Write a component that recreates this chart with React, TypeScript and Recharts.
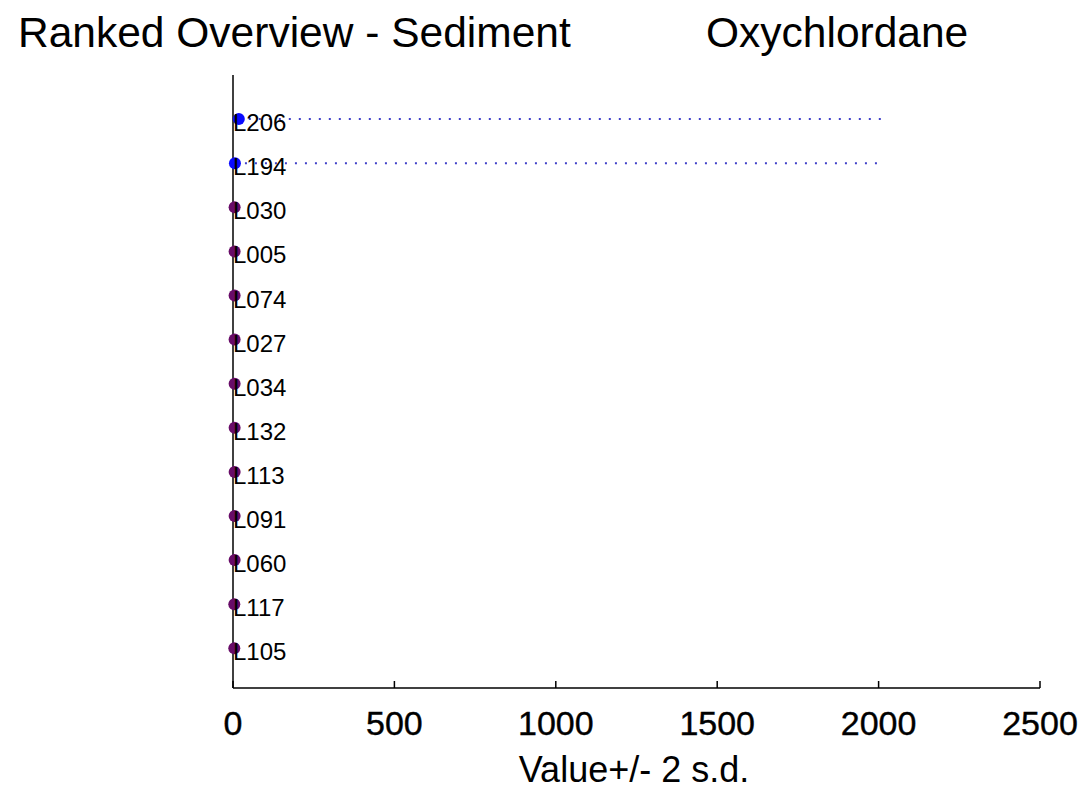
import React from 'react';
import { ScatterChart, Scatter, XAxis, YAxis } from 'recharts';

const stations = ['L206', 'L194', 'L030', 'L005', 'L074', 'L027', 'L034', 'L132', 'L113', 'L091', 'L060', 'L117', 'L105'];
const values = [18, 6, 5, 5, 5, 5, 5, 5, 5, 5, 5, 4, 4];
const upperValues = [2017, 2000, null, null, null, null, null, null, null, null, null, null, null];
const flagged = [true, true, false, false, false, false, false, false, false, false, false, false, false];
const xTicks = [0, 500, 1000, 1500, 2000, 2500];

const n = stations.length;
const points = stations.map((name, i) => ({ x: values[i], y: n - i, name, flagged: flagged[i] }));
const bluePoints = points.filter((p) => p.flagged);
const purplePoints = points.filter((p) => !p.flagged);
const labelPoints = stations.map((name, i) => ({ x: 0, y: n - i, name }));
const errSegments = stations
  .map((name, i) => (upperValues[i] != null ? [{ x: values[i], y: n - i }, { x: upperValues[i] as number, y: n - i }] : null))
  .filter((s) => s !== null) as { x: number; y: number }[][];

const FONT = 'Arial, "Liberation Sans", sans-serif';

const Tick = (props: any) => {
  const { x, y, payload } = props;
  return (
    <g>
      <line x1={x} y1={y} x2={x} y2={y - 7} stroke="#000" strokeWidth={1.5} />
      <text x={x} y={y + 47} textAnchor="middle" fontSize={34} fontFamily={FONT} fill="#000" stroke="#000" strokeWidth={0.4}>
        {payload.value}
      </text>
    </g>
  );
};

const Dot = (color: string) => (props: any) => {
  const { cx, cy } = props;
  return <circle cx={cx} cy={cy} r={6} fill={color} />;
};

const LabelShape = (props: any) => {
  const { cx, cy, payload } = props;
  return (
    <text x={cx} y={cy + 12} fontSize={24} fontFamily={FONT} fill="#000">
      {payload.name}
    </text>
  );
};

const NoShape = () => <g />;

export default function App() {
  return (
    <div style={{ position: 'absolute', left: 0, top: 0, width: 1084, height: 790, background: '#fff' }}>
      <ScatterChart width={1084} height={790} margin={{ top: 75, right: 44, bottom: 0, left: 0 }}>
        <XAxis
          type="number"
          dataKey="x"
          domain={[0, 2500]}
          ticks={xTicks}
          height={102}
          tickSize={0}
          tickMargin={0}
          tickLine={false}
          tick={<Tick />}
          axisLine={{ stroke: '#000', strokeWidth: 1.5 }}
          interval={0}
        />
        <YAxis
          type="number"
          dataKey="y"
          domain={[0.1, 14]}
          width={233}
          tick={false}
          tickLine={false}
          axisLine={{ stroke: '#000', strokeWidth: 1.5 }}
        />
        {errSegments.map((seg, i) => (
          <Scatter
            key={'err' + i}
            data={seg}
            line={{ stroke: '#4040c8', strokeWidth: 2, strokeDasharray: '2 8' }}
            shape={<NoShape />}
            isAnimationActive={false}
          />
        ))}
        <Scatter data={purplePoints} shape={Dot('#680c68')} isAnimationActive={false} />
        <Scatter data={bluePoints} shape={Dot('#0a0aff')} isAnimationActive={false} />
        <Scatter data={labelPoints} shape={<LabelShape />} isAnimationActive={false} />
      </ScatterChart>
      <svg width={1084} height={790} style={{ position: 'absolute', left: 0, top: 0, pointerEvents: 'none' }}>
        <text x={18} y={47} fontSize={42.5} fontFamily={FONT} fill="#000">Ranked Overview - Sediment</text>
        <text x={706} y={47} fontSize={42.5} fontFamily={FONT} fill="#000">Oxychlordane</text>
        <text x={634} y={782} fontSize={36} fontFamily={FONT} fill="#000" textAnchor="middle">Value+/- 2 s.d.</text>
      </svg>
    </div>
  );
}
